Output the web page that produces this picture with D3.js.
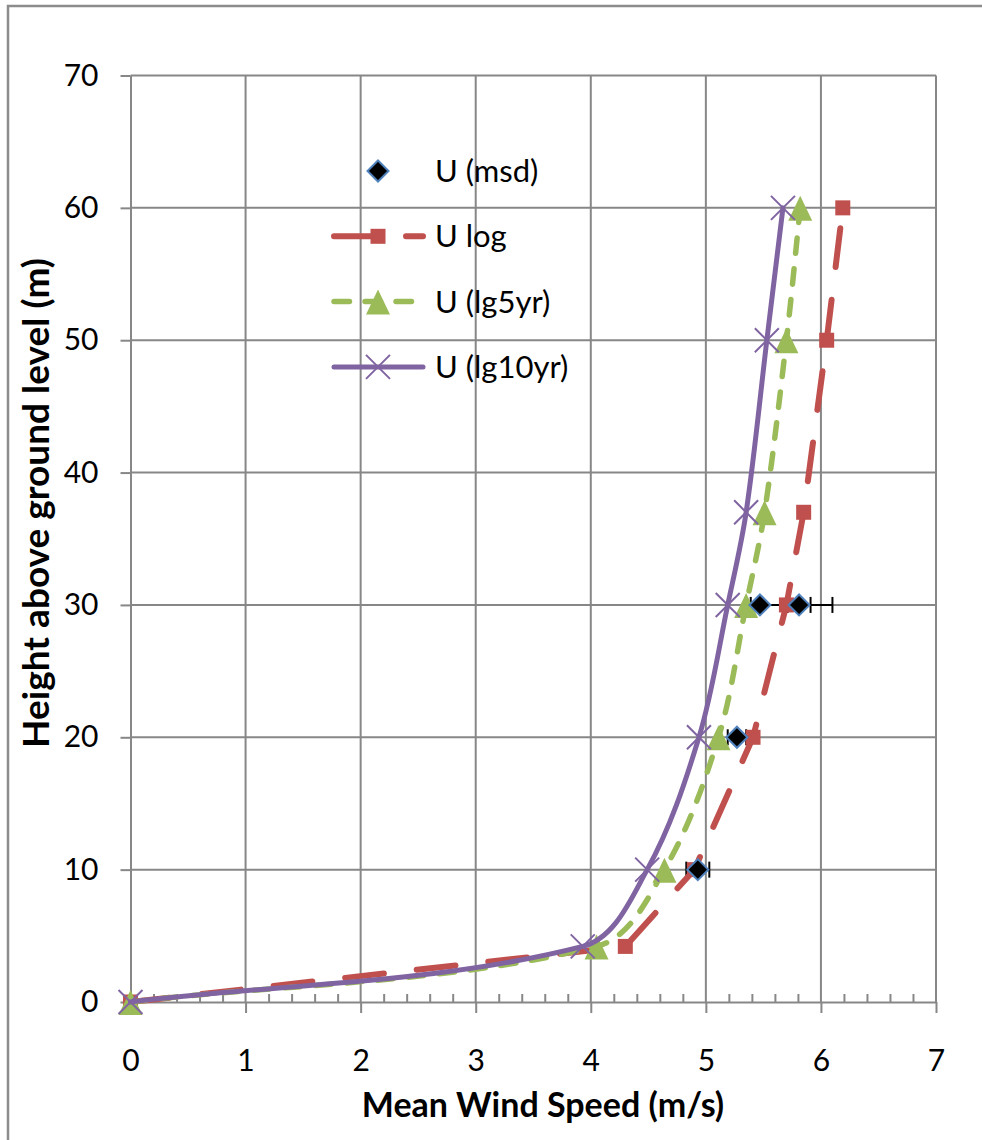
<!DOCTYPE html>
<html>
<head>
<meta charset="utf-8">
<script src="https://cdn.jsdelivr.net/npm/d3@7"></script>
<style>
  body { margin: 0; background: #fff; }
  text { font-family: Lato, "Open Sans", sans-serif; fill: #000; }
</style>
</head>
<body>
<div id="chart"></div>
<script>
// heights (m) shared by the three profile series
const heights = [0, 4.2, 10, 20, 30, 37, 50, 60];
const uLog  = [0, 4.30, 4.90, 5.41, 5.70, 5.85, 6.05, 6.19];
const uLg5  = [0, 4.05, 4.64, 5.11, 5.35, 5.51, 5.70, 5.82];
const uLg10 = [0, 3.93, 4.49, 4.94, 5.19, 5.35, 5.53, 5.67];

// measured points with x error bars
const msdHeights = [10, 20, 30, 30];
const msdSpeeds  = [4.93, 5.27, 5.47, 5.81];
const msdLo      = [4.83, 5.19, 5.39, 5.71];
const msdHi      = [5.03, 5.35, 6.10, 5.91];

const xTicks = [0, 1, 2, 3, 4, 5, 6, 7];
const yTicks = [0, 10, 20, 30, 40, 50, 60, 70];

let width = 982,
    height = 1140,
    margin = ({ top: 75.5, right: 46, bottom: 138, left: 130.5 });

const grey = "#878787";

const svg = d3.select("#chart")
  .append("svg")
  .attr("width", width)
  .attr("height", height);

// outer chart frame
svg.append("rect")
  .attr("x", 8).attr("y", 6)
  .attr("width", 1000).attr("height", 1200)
  .attr("fill", "#fff")
  .attr("stroke", "#8c8c8c")
  .attr("stroke-width", 2.5);

const x = d3.scaleLinear()
  .domain([0, 7])
  .range([margin.left, width - margin.right]);

const y = d3.scaleLinear()
  .domain([0, 70])
  .range([height - margin.bottom, margin.top]);

// grid
svg.append("g")
  .selectAll("line")
  .data(yTicks.slice(1))
  .join("line")
  .attr("x1", x(0)).attr("x2", x(7))
  .attr("y1", d => y(d)).attr("y2", d => y(d))
  .attr("stroke", grey).attr("stroke-width", 2);

svg.append("g")
  .selectAll("line")
  .data(xTicks.slice(1))
  .join("line")
  .attr("x1", d => x(d)).attr("x2", d => x(d))
  .attr("y1", y(0)).attr("y2", y(70))
  .attr("stroke", grey).attr("stroke-width", 2);

// axes
svg.append("g")
  .attr("transform", `translate(${x(0)},0)`)
  .call(d3.axisLeft(y).tickValues(yTicks).tickFormat(d3.format("d")).tickSize(10).tickPadding(22).tickSizeOuter(0));

const minorTicks = d3.range(0, 35).map(i => i / 5).filter(v => v % 1 !== 0);

svg.append("g")
  .attr("transform", `translate(0,${y(0)})`)
  .call(d3.axisBottom(x).tickValues(minorTicks).tickSize(-8).tickFormat("").tickSizeOuter(0))
  .call(g => g.select(".domain").remove());

svg.append("g")
  .attr("transform", `translate(0,${y(0)})`)
  .call(d3.axisBottom(x).tickValues(xTicks).tickFormat(d3.format("d")).tickSize(11).tickPadding(37).tickSizeOuter(0));

svg.selectAll(".tick line, .domain")
  .attr("stroke", grey)
  .attr("stroke-width", 2);

svg.selectAll(".tick text")
  .style("font-size", "30px")
  .attr("fill", "#000");

// axis titles
svg.append("text")
  .attr("x", 543).attr("y", 1117)
  .attr("text-anchor", "middle")
  .style("font-size", "34px").style("font-weight", "bold")
  .text("Mean Wind Speed (m/s)");

svg.append("text")
  .attr("transform", "translate(49,503) rotate(-90)")
  .attr("text-anchor", "middle")
  .style("font-size", "37px").style("font-weight", "bold")
  .text("Height above ground level (m)");

// spreadsheet-style smoothing: tangent from neighbours, handle length from the segment itself
function smoothLine(pts) {
  const p = d3.path(), n = pts.length;
  const tangent = i => {
    const a = pts[Math.max(i - 1, 0)], b = pts[Math.min(i + 1, n - 1)];
    const dx = b[0] - a[0], dy = b[1] - a[1], l = Math.hypot(dx, dy) || 1;
    return [dx / l, dy / l];
  };
  p.moveTo(pts[0][0], pts[0][1]);
  for (let i = 0; i < n - 1; i++) {
    const P = pts[i], Q = pts[i + 1];
    const d = Math.hypot(Q[0] - P[0], Q[1] - P[1]) / 3;
    const t0 = tangent(i), t1 = tangent(i + 1);
    p.bezierCurveTo(P[0] + t0[0] * d, P[1] + t0[1] * d, Q[0] - t1[0] * d, Q[1] - t1[1] * d, Q[0], Q[1]);
  }
  return p.toString();
}

function straightLine(pts) {
  return d3.line()(pts);
}

// error bars for measured points
const errG = svg.append("g").attr("stroke", "#000").attr("stroke-width", 2);
msdSpeeds.forEach((s, i) => {
  const cy = y(msdHeights[i]);
  errG.append("line").attr("x1", x(msdLo[i])).attr("x2", x(msdHi[i])).attr("y1", cy).attr("y2", cy);
  [msdLo[i], msdHi[i]].forEach(v => {
    errG.append("line").attr("x1", x(v)).attr("x2", x(v)).attr("y1", cy - 8).attr("y2", cy + 8);
  });
});

const series = [
  { name: "U log",      values: uLog,  color: "#C0504D", width: 6,   dash: "39,33",     path: straightLine, marker: "square" },
  { name: "U (lg5yr)",  values: uLg5,  color: "#9BBB59", width: 5.5, dash: "15.5,15.5", path: smoothLine,   marker: "triangle" },
  { name: "U (lg10yr)", values: uLg10, color: "#8064A2", width: 5,   dash: null,        path: smoothLine,   marker: "cross" }
];

function drawMarker(g, type, color) {
  if (type === "square") {
    g.append("rect").attr("x", -7.5).attr("y", -7.5).attr("width", 15).attr("height", 15).attr("fill", color);
  } else if (type === "triangle") {
    g.append("path").attr("d", "M0,-12L12,13L-12,13Z").attr("fill", color);
  } else if (type === "cross") {
    g.append("path").attr("d", "M-12,-12L12,12M12,-12L-12,12").attr("stroke", color).attr("stroke-width", 2).attr("fill", "none");
  } else if (type === "diamond") {
    g.append("path").attr("d", "M0,-10.5L10.5,0L0,10.5L-10.5,0Z").attr("fill", "#000").attr("stroke", "#4F81BD").attr("stroke-width", 2);
  }
}

series.forEach(s => {
  const pts = s.values.map((v, i) => [x(v), y(heights[i])]);

  svg.append("path")
    .attr("d", s.path(pts))
    .attr("fill", "none")
    .attr("stroke", s.color)
    .attr("stroke-width", s.width)
    .attr("stroke-linecap", "round")
    .attr("stroke-linejoin", "round")
    .attr("stroke-dasharray", s.dash);

  pts.forEach(p => {
    drawMarker(svg.append("g").attr("transform", `translate(${p[0]},${p[1]})`), s.marker, s.color);
  });
});

msdSpeeds.forEach((v, i) => {
  drawMarker(svg.append("g").attr("transform", `translate(${x(v)},${y(msdHeights[i])})`), "diamond");
});

// legend
const legendItems = [
  { name: "U (msd)", marker: "diamond", color: null, width: 0, dash: null },
  ...series
];

legendItems.forEach((d, i) => {
  const cy = 171 + i * 65.3;
  const g = svg.append("g");
  if (d.width) {
    g.append("line")
      .attr("x1", 334).attr("x2", 423)
      .attr("y1", cy).attr("y2", cy)
      .attr("stroke", d.color)
      .attr("stroke-width", d.width)
      .attr("stroke-linecap", "round")
      .attr("stroke-dasharray", d.dash);
  }
  drawMarker(g.append("g").attr("transform", `translate(378,${cy})`), d.marker, d.color);
  g.append("text")
    .attr("x", 435).attr("y", cy + 11)
    .style("font-size", "31px")
    .text(d.name);
});
</script>
</body>
</html>
